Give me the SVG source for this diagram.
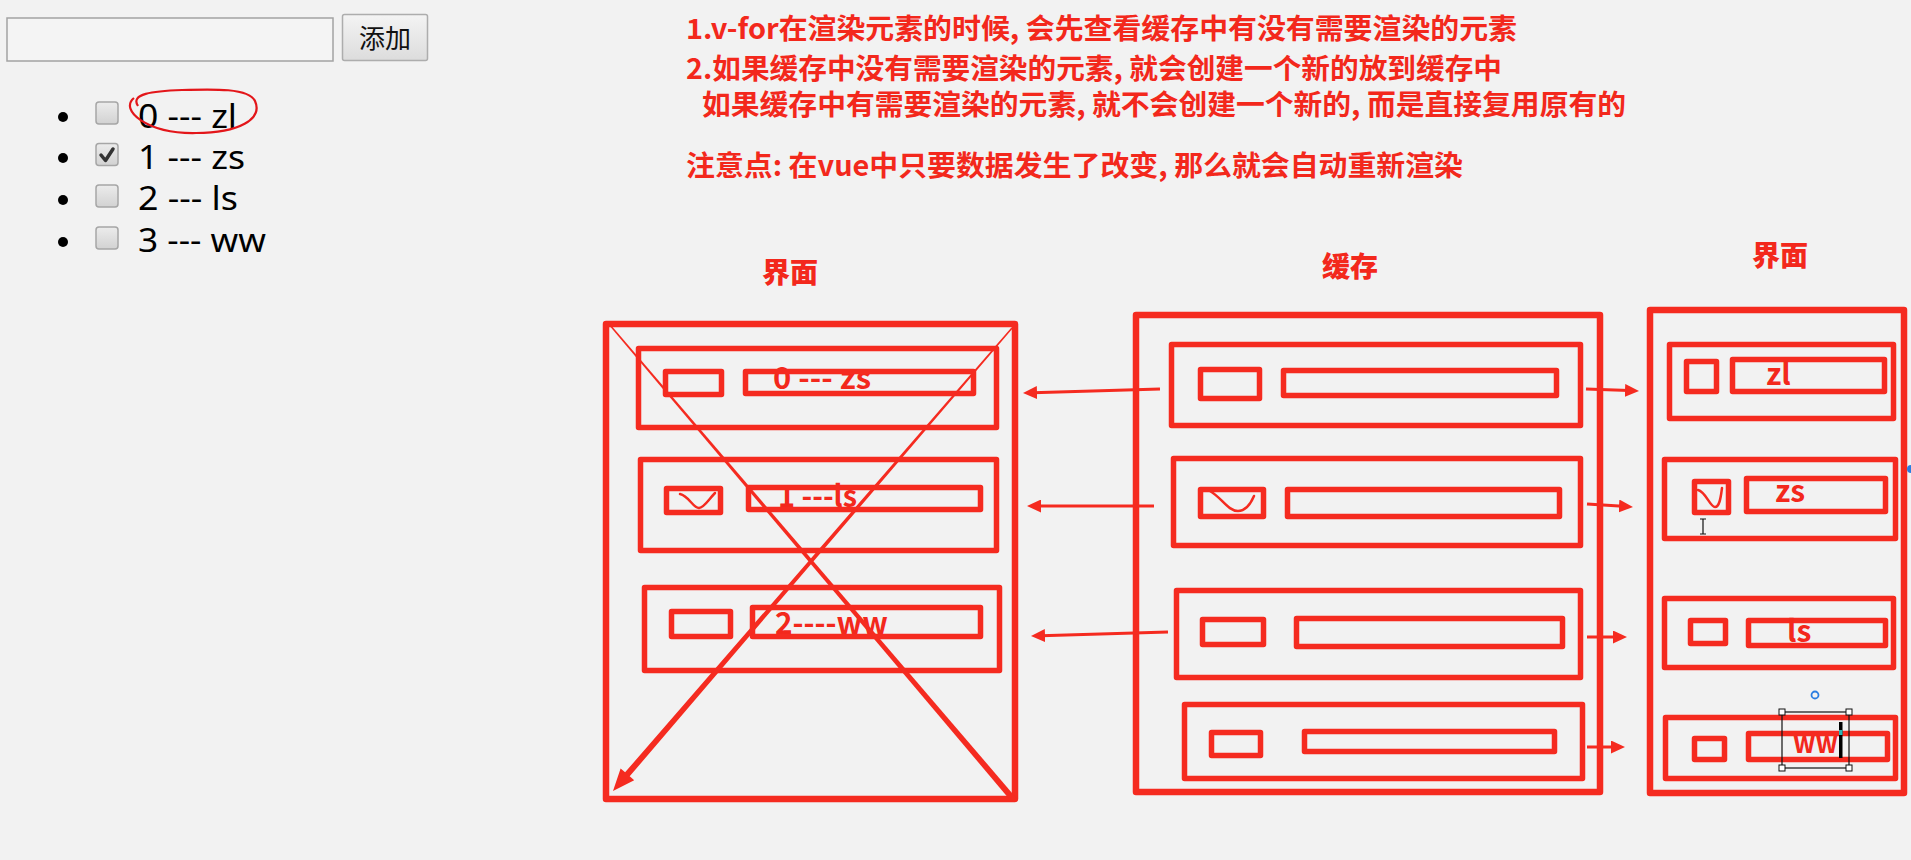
<svg xmlns="http://www.w3.org/2000/svg" width="1911" height="860" viewBox="0 0 1911 860">
  <defs>
    <linearGradient id="btnFill" x1="0" y1="0" x2="0" y2="1">
      <stop offset="0" stop-color="#f4f4f4"/>
      <stop offset="1" stop-color="#dcdcdc"/>
    </linearGradient>
    <linearGradient id="boxFill" x1="0" y1="0" x2="0" y2="1">
      <stop offset="0" stop-color="#ececec"/>
      <stop offset="1" stop-color="#d2d2d2"/>
    </linearGradient>
    <marker id="head" viewBox="0 0 14 13" refX="4" refY="6.5" markerWidth="14" markerHeight="13" markerUnits="userSpaceOnUse" orient="auto">
      <path d="M0,0 L14,6.5 L0,13 Z" fill="#f52b20"/>
    </marker>
    <style>
      .bg { fill: #f2f2f2; }
      .item { font-family: "Noto Sans", "Liberation Sans", sans-serif; font-size: 32px; fill: #000; }
      .chk { fill: url(#boxFill); stroke: #a6a6a6; stroke-width: 1.5; }
      .note { font-family: "Noto Sans CJK SC", "Liberation Sans", sans-serif; font-size: 28px; font-weight: 700; fill: #f3281c; }
      .title { font-family: "Noto Sans CJK SC", sans-serif; font-size: 28px; font-weight: 900; fill: #f3281c; text-anchor: middle; }
      .lbl { font-family: "Noto Sans CJK SC", "Liberation Sans", sans-serif; font-size: 30px; font-weight: 700; fill: #f3281c; }
      .panel { fill: none; stroke: #f52b20; stroke-width: 6.5; stroke-linejoin: round; }
      .row { fill: none; stroke: #f52b20; stroke-width: 5.5; stroke-linejoin: round; }
      .wave { fill: none; stroke: #f52b20; stroke-width: 2.5; stroke-linecap: round; }
      .arrow { fill: none; stroke: #f52b20; stroke-width: 3; marker-end: url(#head); }
      .solid { fill: #f52b20; }
    </style>
  </defs>

  <rect class="bg" x="0" y="0" width="1911" height="860"/>

  <!-- page form: input + button -->
  <g id="form">
    <rect x="7" y="18" width="326" height="43" fill="#f4f4f4" stroke="#a3a3a3" stroke-width="1.5"/>
    <rect x="342.5" y="14.5" width="85" height="46" rx="2" fill="url(#btnFill)" stroke="#adadad" stroke-width="1.5"/>
    <text x="385" y="48" text-anchor="middle" font-family="Noto Sans CJK SC, sans-serif" font-size="26" fill="#111">添加</text>
  </g>

  <!-- rendered list -->
  <g id="list">
    <circle cx="63" cy="117" r="5" fill="#000"/>
    <circle cx="63" cy="158" r="5" fill="#000"/>
    <circle cx="63" cy="200" r="5" fill="#000"/>
    <circle cx="63" cy="242" r="5" fill="#000"/>
    <rect class="chk" x="96" y="102" width="22" height="22" rx="3"/>
    <rect class="chk" x="96" y="143.5" width="22" height="22" rx="3"/>
    <path d="M101,155 L105.5,160.5 L113,149" fill="none" stroke="#333" stroke-width="3.5" stroke-linecap="round" stroke-linejoin="round"/>
    <rect class="chk" x="96" y="185" width="22" height="22" rx="3"/>
    <rect class="chk" x="96" y="227" width="22" height="22" rx="3"/>
    <text class="item" x="138" y="128" textLength="99" lengthAdjust="spacingAndGlyphs">0 --- zl</text>
    <text class="item" x="138" y="169" textLength="107" lengthAdjust="spacingAndGlyphs">1 --- zs</text>
    <text class="item" x="138" y="210" textLength="100" lengthAdjust="spacingAndGlyphs">2 --- ls</text>
    <text class="item" x="138" y="252" textLength="128" lengthAdjust="spacingAndGlyphs">3 --- ww</text>
    <path d="M134,98 C119,110 147,134 196,133 C239,133 263,119 255,101 C249,88 214,89 182,90 C152,91 130,94 138,106" fill="none" stroke="#e3161a" stroke-width="2.2"/>
  </g>

  <!-- notes -->
  <g id="notes">
    <text class="note" x="686" y="39" textLength="831" lengthAdjust="spacingAndGlyphs">1.v-for在渲染元素的时候, 会先查看缓存中有没有需要渲染的元素</text>
    <text class="note" x="686" y="79" textLength="816" lengthAdjust="spacingAndGlyphs">2.如果缓存中没有需要渲染的元素, 就会创建一个新的放到缓存中</text>
    <text class="note" x="702" y="115" textLength="924" lengthAdjust="spacingAndGlyphs">如果缓存中有需要渲染的元素, 就不会创建一个新的, 而是直接复用原有的</text>
    <text class="note" x="686" y="176" textLength="777" lengthAdjust="spacingAndGlyphs">注意点: 在vue中只要数据发生了改变, 那么就会自动重新渲染</text>
  </g>

  <!-- old view (crossed out) -->
  <g id="view-old">
    <text class="title" x="790" y="283">界面</text>
    <rect class="panel" x="606" y="324" width="409" height="475"/>
    <text class="lbl" x="773" y="389" textLength="98" lengthAdjust="spacingAndGlyphs">0 --- zs</text>
    <rect class="row" x="638.5" y="348.5" width="358" height="79"/>
    <rect class="row" x="665.5" y="371.5" width="56" height="23"/>
    <rect class="row" x="745.5" y="371.5" width="228" height="22"/>
    <text class="lbl" x="778" y="507" textLength="79" lengthAdjust="spacingAndGlyphs">1 ---ls</text>
    <rect class="row" x="640.5" y="459.5" width="356" height="91"/>
    <rect class="row" x="666.5" y="488.5" width="54" height="24"/>
    <path class="wave" d="M680,494 C689,496 693,508 699,508 C704,508 709,499 715,493"/>
    <rect class="row" x="748.5" y="487.5" width="232" height="22"/>
    <text class="lbl" x="775" y="634" textLength="113" lengthAdjust="spacingAndGlyphs">2----ww</text>
    <rect class="row" x="644.5" y="587.5" width="355" height="83"/>
    <rect class="row" x="671.5" y="611.5" width="59" height="25"/>
    <rect class="row" x="752.5" y="607.5" width="228" height="29"/>
  </g>
  <g id="cross-out">
    <path class="solid" d="M608.4,324.5 L609.6,323.5 L1016.3,797.9 L1011.7,801.9 Z"/>
    <path class="solid" d="M1011.4,327.5 L1012.6,328.5 L629.7,776.3 L634.2,780.2 L613,791 L620.6,768.4 L625.1,772.3 Z"/>
  </g>

  <!-- cache -->
  <g id="cache">
    <text class="title" x="1350" y="277">缓存</text>
    <rect class="panel" x="1136" y="315" width="464" height="477"/>
    <rect class="row" x="1171.5" y="344.5" width="409" height="81"/>
    <rect class="row" x="1200.5" y="369.5" width="59" height="29"/>
    <rect class="row" x="1283.5" y="370.5" width="273" height="25"/>
    <rect class="row" x="1173.5" y="458.5" width="407" height="87"/>
    <rect class="row" x="1200.5" y="489.5" width="63" height="27"/>
    <path class="wave" d="M1210,491 C1222,498 1228,511 1238,511 C1246,511 1251,503 1254,496"/>
    <rect class="row" x="1287.5" y="489.5" width="272" height="27"/>
    <rect class="row" x="1176.5" y="590.5" width="404" height="87"/>
    <rect class="row" x="1202.5" y="619.5" width="61" height="25"/>
    <rect class="row" x="1296.5" y="618.5" width="266" height="28"/>
    <rect class="row" x="1184.5" y="704.5" width="398" height="74"/>
    <rect class="row" x="1211.5" y="732.5" width="49" height="23"/>
    <rect class="row" x="1304.5" y="731.5" width="250" height="20"/>
  </g>

  <!-- new view -->
  <g id="view-new">
    <text class="title" x="1780" y="266">界面</text>
    <rect class="panel" x="1650" y="310" width="254" height="483"/>
    <rect class="row" x="1669.5" y="344.5" width="224" height="74"/>
    <rect class="row" x="1686.5" y="361.5" width="30" height="30"/>
    <rect class="row" x="1732.5" y="359.5" width="152" height="32"/>
    <text class="lbl" x="1766" y="385">zl</text>
    <rect class="row" x="1664.5" y="459.5" width="231" height="79"/>
    <rect class="row" x="1694.5" y="481.5" width="34" height="31"/>
    <path class="wave" d="M1698,490 C1706,492 1710,507 1715,507 C1720,507 1721,495 1722,488"/>
    <rect class="row" x="1746.5" y="478.5" width="139" height="33"/>
    <text class="lbl" x="1775" y="502">zs</text>
    <rect class="row" x="1664.5" y="598.5" width="229" height="69"/>
    <rect class="row" x="1690.5" y="620.5" width="35" height="23"/>
    <rect class="row" x="1748.5" y="620.5" width="137" height="25"/>
    <text class="lbl" x="1787" y="642">ls</text>
    <rect class="row" x="1665.5" y="717.5" width="230" height="61"/>
    <rect class="row" x="1694.5" y="738.5" width="30" height="21"/>
    <rect class="row" x="1748.5" y="733.5" width="139" height="26"/>
    <text class="lbl" x="1793" y="753" textLength="45" lengthAdjust="spacingAndGlyphs">ww</text>
  </g>

  <!-- editor overlay: text cursor, selection frame -->
  <g id="editor-overlay">
    <path d="M1700,519 H1706 M1703,519 V534 M1700,534 H1706" fill="none" stroke="#111" stroke-width="1.2"/>
    <rect x="1782" y="712" width="67" height="56" fill="none" stroke="#111" stroke-width="1.2"/>
    <rect x="1839" y="722" width="3.5" height="36" fill="#000"/>
    <rect x="1839" y="730" width="3.5" height="5" fill="#2bb5b5"/>
    <g fill="#fff" stroke="#111" stroke-width="1">
      <rect x="1779" y="709" width="6" height="6"/>
      <rect x="1846" y="709" width="6" height="6"/>
      <rect x="1779" y="765" width="6" height="6"/>
      <rect x="1846" y="765" width="6" height="6"/>
    </g>
    <circle cx="1815" cy="695" r="3.5" fill="none" stroke="#2a7de1" stroke-width="1.8"/>
    <circle cx="1911" cy="469" r="4" fill="#2a7de1"/>
  </g>

  <!-- connectors -->
  <g id="connectors">
    <line class="arrow" x1="1160" y1="389" x2="1033" y2="392.7"/>
    <line class="arrow" x1="1154" y1="506" x2="1037" y2="506"/>
    <line class="arrow" x1="1168" y1="632" x2="1041" y2="635.7"/>
    <line class="arrow" x1="1586" y1="389" x2="1629" y2="390.6"/>
    <line class="arrow" x1="1587" y1="504" x2="1623" y2="506.3"/>
    <line class="arrow" x1="1587" y1="637" x2="1617" y2="637"/>
    <line class="arrow" x1="1587" y1="747" x2="1615" y2="747"/>
  </g>
</svg>
